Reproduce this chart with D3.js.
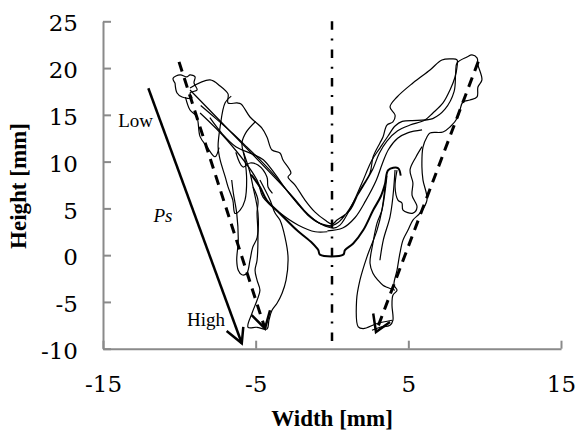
<!DOCTYPE html>
<html><head><meta charset="utf-8">
<script src="https://cdn.jsdelivr.net/npm/d3@7"></script>
<style>body{margin:0;background:#fff}svg{display:block}</style>
</head><body>
<svg id="chart" width="578" height="432"></svg>
<script>
// ---- data ----
const xTicks = [-15, -5, 5, 15];
const yTicks = [-10, -5, 0, 5, 10, 15, 20, 25];
const xTitle = "Width [mm]";
const yTitle = "Height [mm]";

const trajA = [[-10.28,18.39],[-10.41,18.92],[-9.95,19.27],[-9.50,19.06],[-9.30,19.27],[-8.97,19.06],[-9.04,18.42],[-8.84,17.66],[-9.30,17.34],[-9.17,16.80],[-9.82,16.91],[-10.15,17.34],[-10.28,18.39]];
const trajB = [[-9.30,17.88],[-7.99,18.73],[-7.33,18.09],[-6.81,17.24],[-6.81,16.27],[-6.22,16.27],[-5.96,16.16],[-5.37,14.77],[-4.59,13.59],[-4.26,12.63],[-3.93,11.24],[-3.41,10.92],[-3.21,10.17],[-2.69,8.78],[-2.88,8.35],[-2.42,7.49],[-1.77,5.89],[-1.11,4.60],[-0.46,3.75],[0.0,3.32],[0.33,3.75],[1.18,4.82],[1.83,6.96],[2.49,8.78],[2.69,10.49],[3.14,11.99],[3.34,12.63],[3.60,13.91],[3.99,14.24],[4.13,14.98],[3.80,15.84],[4.26,16.91],[5.30,18.41],[6.42,19.80],[7.20,20.87],[7.86,20.98],[8.19,20.87],[8.19,20.12],[8.06,19.05],[7.73,17.66],[7.27,16.27],[6.61,15.20],[6.09,14.45],[5.11,13.91],[4.3,13.3],[3.6,12.2],[3.1,10.9],[2.7,9.3],[2.2,7.8],[1.6,6.2],[1.0,4.6],[0.4,3.5],[-0.2,3.1],[-1.0,3.6],[-1.9,4.9],[-2.8,6.6],[-3.7,8.4],[-4.6,10.0],[-5.6,11.6],[-6.5,13.0],[-7.6,14.6],[-8.6,16.0]];
const trajC = [[-9.30,17.66],[-2.55,6.21],[-1.6,4.4],[-0.7,3.3],[0.1,2.9],[0.52,3.21],[1.31,5.35],[1.96,7.71],[2.62,10.17],[3.14,11.45],[3.67,12.74],[4.13,13.81],[4.6,14.3],[5.6,14.4],[6.6,14.6],[7.4,15.6],[8.0,17.5],[8.1,19.5],[8.19,20.55],[8.84,21.19],[9.17,21.41],[9.50,21.09],[9.56,20.34],[9.82,18.73],[9.56,17.98],[9.50,16.91],[9.04,16.59],[8.58,16.38],[8.38,15.52],[8.25,14.77],[7.73,13.70],[7.27,13.16],[6.42,13.06],[6.22,12.63],[5.96,11.56],[5.89,9.42],[5.96,8.03],[6.22,5.89],[5.76,4.50],[5.30,3.75],[4.98,2.68],[4.65,1.61],[4.45,0.21],[4.26,-1.61],[4.06,-3.21],[4.26,-3.75],[3.99,-4.28],[3.93,-5.35],[3.99,-6.96],[3.80,-7.49],[3.14,-7.71],[2.62,-8.03]];
const trajBold = [[-5.3,8.6],[-4.72,7.28],[-4.28,5.89],[-3.41,4.46],[-2.31,2.68],[-1.3,1.3],[-0.90,0.54],[-0.79,0.05],[0.74,0.05],[0.85,0.54],[1.39,1.25],[2.05,2.68],[2.70,4.82],[3.20,6.3],[3.47,7.6],[3.69,9.10],[4.32,9.31],[4.5,8.5]];
const trajE = [[-6.6,17.0],[-7.0,16.3],[-7.33,13.7],[-7.46,11.6],[-7.33,10.2],[-7.0,8.4],[-6.81,7.3],[-6.5,5.9],[-6.35,4.46],[-6.02,4.82],[-5.70,5.89],[-5.59,8.03],[-5.70,10.2],[-5.9,12.0],[-5.6,13.2],[-5.0,14.3]];
const trajF = [[-6.57,8.03],[-6.46,6.60],[-6.24,4.46],[-6.14,1.61],[-6.24,-0.54],[-6.14,-1.61],[-5.9,-2.1],[-5.59,-1.96],[-5.37,-0.54],[-5.2,0.8],[-4.9,1.9],[-4.85,4.5],[-5.17,7.28],[-5.4,9.0],[-5.8,11.0]];
const trajG = [[-4.72,8.03],[-4.06,5.89],[-3.73,4.50],[-3.41,3.75],[-3.08,1.93],[-2.88,-0.21],[-3.01,-2.68],[-3.27,-4.07],[-3.60,-5.14],[-3.93,-5.89],[-4.13,-6.96],[-4.26,-7.89],[-4.91,-7.71],[-5.50,-7.71],[-5.24,-6.21],[-4.91,-4.82],[-4.72,-3.75],[-4.91,-2.68],[-5.04,-1.61],[-4.91,-0.54],[-4.85,2.35],[-4.91,4.50],[-4.85,5.89],[-5.17,7.28]];
const trajH = [[3.47,7.3],[3.27,4.82],[2.95,2.68],[2.29,-0.18],[1.83,-2.68],[1.61,-4.82],[1.72,-7.67],[2.05,-7.85],[2.95,-7.31],[3.93,-6.96]];
const trajI = [[3.6,8.5],[3.27,4.82],[2.95,3.43],[2.68,1.28],[2.49,-0.86],[2.68,-1.93],[3.01,-2.68],[3.34,-3.21],[3.60,-3.43],[4.13,-3.75]];
const trajJ = [[4.13,9.10],[3.99,6.24],[3.80,4.10],[3.36,1.61],[3.14,-0.54]];
const trajK = [[4.26,9.10],[4.13,7.28],[4.32,5.89],[4.58,5.57],[4.65,4.82],[5.30,4.50],[5.57,5.14],[5.24,6.42],[5.30,7.71],[5.11,9.10],[5.5,10.5],[5.9,11.6]];
const trajL = [[-0.3,2.6],[0.7,2.9],[1.5,4.0],[2.2,5.8],[2.9,8.0],[3.3,9.8],[3.7,11.3],[4.3,12.5],[5.0,13.1],[5.9,13.4]];
const trajM = [[-8.64,15.20],[-6.88,12.31],[-4.91,8.03],[-4.52,6.21],[-3.4,4.5],[-2.2,3.2],[-1.1,2.5],[-0.3,2.5]];
const trajN = [[-8.0,14.7],[-7.2,13.0],[-6.3,11.6],[-5.2,10.8],[-4.5,10.2],[-3.7,8.6],[-3.0,7.0],[-2.3,5.6],[-1.6,4.3],[-0.8,3.4],[0,3.1]];
const trajO = [[-9.6,16.9],[-9.3,15.52],[-8.86,14.8],[-8.64,12.67],[-8.2,11.6],[-7.66,10.52],[-7.4,11.5]];
const trajP = [[-6.3,11.0],[-5.83,9.42],[-5.37,9.85],[-4.85,9.63],[-4.26,8.35],[-4.19,7.28],[-3.9,6.6]];
const thinTrajs = [trajA, trajB, trajC, trajE, trajF, trajG, trajH, trajI, trajJ, trajK, trajL, trajM, trajN, trajO, trajP];

const leftDashed = [[-10.02,20.66],[-4.39,-7.84]];
const leftDashedHead = [[-5.26,-6.42],[-4.39,-7.84],[-4.06,-5.89]];
const rightDashed = [[9.58,20.69],[2.88,-8.21]];
const rightDashedHead = [[2.70,-6.24],[2.88,-8.21],[3.80,-7.14]];
const psArrow = [[-12.03,17.84],[-5.91,-9.42]];
const psHead = [[-6.90,-8.10],[-5.91,-9.42],[-5.81,-7.67]];
const centerLine = [[0,25],[0,-9.2]];
const annotations = [
  {text:"Low", x:-14.0, y:13.7, italic:false},
  {text:"Ps", x:-11.7, y:3.5, italic:true},
  {text:"High", x:-9.5, y:-7.6, italic:false}
];

// ---- drawing ----
const svg = d3.select("#chart");
const x = d3.scaleLinear().domain([-15,15]).range([103,561]);
const y = d3.scaleLinear().domain([-10,25]).range([348.7,21.3]);
const axisColor = "#8a8a8a";
const tickFont = "'DejaVu Serif', serif";
const textFont = "'Liberation Serif', 'Times New Roman', serif";
const fmt = d => String(d);

const gx = svg.append("g").attr("transform",`translate(0,${y(-10)})`)
  .call(d3.axisBottom(x).tickValues(xTicks).tickSize(-8).tickSizeOuter(0).tickPadding(27).tickFormat(fmt));
const gy = svg.append("g").attr("transform",`translate(${x(-15)},0)`)
  .call(d3.axisLeft(y).tickValues(yTicks).tickSize(-8).tickSizeOuter(0).tickPadding(25).tickFormat(fmt));
[gx,gy].forEach(g=>{
  g.select(".domain").attr("stroke",axisColor).attr("stroke-width",2);
  g.selectAll(".tick line").attr("stroke",axisColor).attr("stroke-width",2);
  g.selectAll(".tick text").attr("fill","#000").style("font-family",tickFont).style("font-size","23px");
});
gy.selectAll(".tick text").attr("dy","0.42em");

const line = d3.line().x(d=>x(d[0])).y(d=>y(d[1]));
const smooth = d3.line().x(d=>x(d[0])).y(d=>y(d[1])).curve(d3.curveCatmullRom.alpha(0.5));

// center dash-dot
svg.append("path").attr("d",line(centerLine)).attr("stroke","#000").attr("stroke-width",2.5)
  .attr("fill","none").attr("stroke-dasharray","8.5,8.7,2,9.1");

// thin trajectories
svg.append("g").selectAll("path").data(thinTrajs).join("path")
  .attr("d",smooth).attr("fill","none").attr("stroke","#000").attr("stroke-width",1.2);
svg.append("path").attr("d",smooth(trajBold)).attr("fill","none").attr("stroke","#000").attr("stroke-width",2);

// dashed arrows
[[leftDashed,leftDashedHead],[rightDashed,rightDashedHead]].forEach(([l,h])=>{
  svg.append("path").attr("d",line(l)).attr("stroke","#000").attr("stroke-width",3)
    .attr("fill","none").attr("stroke-dasharray","10,7");
  svg.append("path").attr("d",line(h)).attr("stroke","#000").attr("stroke-width",2.5).attr("fill","none");
});
// Ps arrow
svg.append("path").attr("d",line(psArrow)).attr("stroke","#000").attr("stroke-width",2.5).attr("fill","none");
svg.append("path").attr("d",line(psHead)).attr("stroke","#000").attr("stroke-width",2.5).attr("fill","none");

// annotations
svg.append("g").selectAll("text").data(annotations).join("text")
  .attr("x",d=>x(d.x)).attr("y",d=>y(d.y)).text(d=>d.text)
  .style("font-family",textFont).style("font-size","19px")
  .style("font-style",d=>d.italic?"italic":"normal");

// axis titles
svg.append("text").attr("x",332).attr("y",426).attr("text-anchor","middle")
  .style("font-family",textFont).style("font-size","23px").style("font-weight","bold").text(xTitle);
svg.append("text").attr("transform","translate(26,186) rotate(-90)").attr("text-anchor","middle")
  .style("font-family",textFont).style("font-size","23px").style("font-weight","bold").text(yTitle);
</script>
</body></html>
